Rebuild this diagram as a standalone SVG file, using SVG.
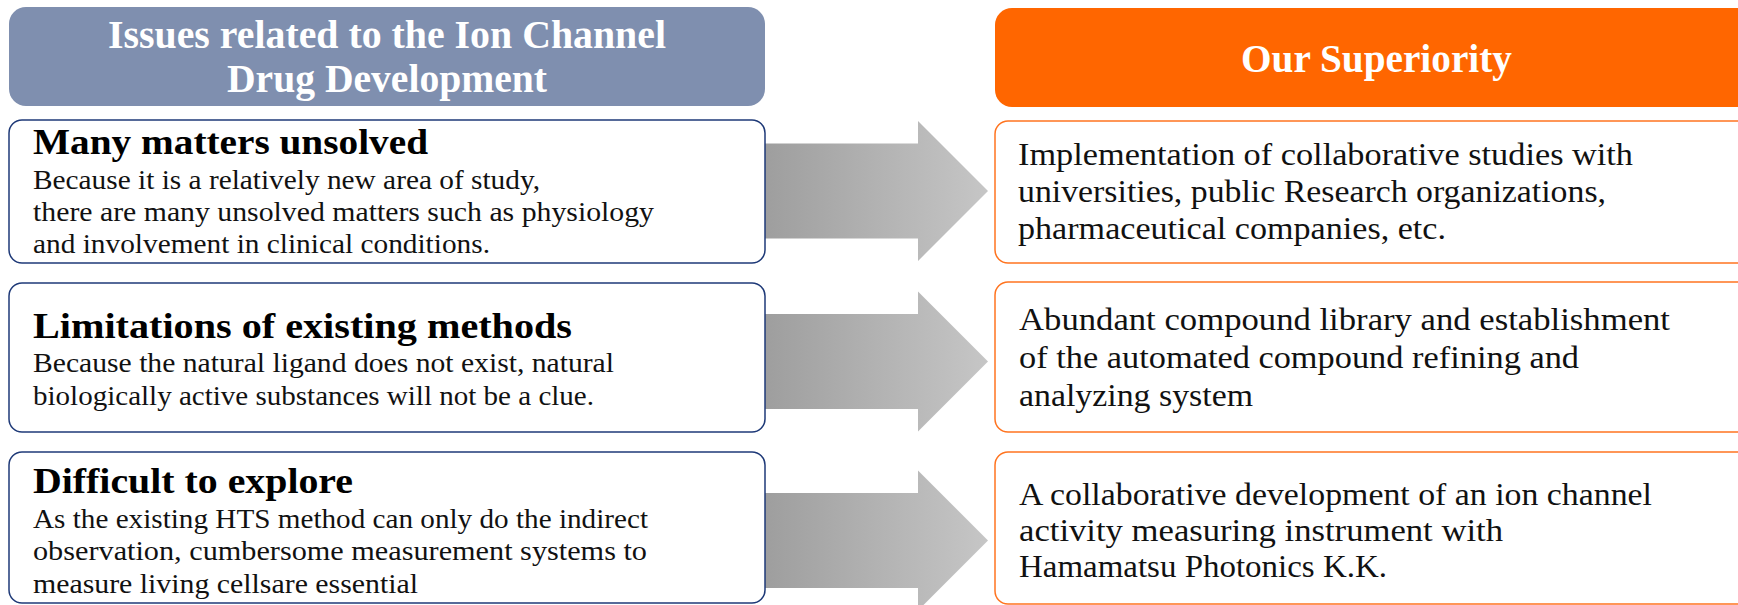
<svg xmlns="http://www.w3.org/2000/svg" width="1738" height="605" viewBox="0 0 1738 605">
<style>
  .hdr{font-family:"Liberation Serif","DejaVu Serif",serif;font-weight:bold;fill:#ffffff;}
  .ttl{font-family:"Liberation Serif","DejaVu Serif",serif;font-weight:bold;font-size:36px;fill:#000000;}
  .body{font-family:"Liberation Serif","DejaVu Serif",serif;font-size:27px;fill:#111111;}
  .rbody{font-family:"Liberation Serif","DejaVu Serif",serif;font-size:32px;fill:#111111;}
  .lbox{fill:#ffffff;stroke:#1f3a78;stroke-width:1.5;}
  .rbox{fill:#ffffff;stroke:#ff7420;stroke-width:1.5;}
  .arrow{fill:url(#ag);}
</style>
<defs>
  <linearGradient id="ag" x1="0" y1="0" x2="1" y2="0">
    <stop offset="0" stop-color="#9e9e9e"/>
    <stop offset="1" stop-color="#c6c6c6"/>
  </linearGradient>
</defs>
<rect width="1738" height="605" fill="#ffffff"/>

<g id="header-left">
  <rect x="9" y="7" width="756" height="99" rx="17" fill="#7f8faf"/>
  <text class="hdr" font-size="39" x="108" y="48" textLength="558" lengthAdjust="spacingAndGlyphs">Issues related to the Ion Channel</text>
  <text class="hdr" font-size="39" x="227" y="92" textLength="320" lengthAdjust="spacingAndGlyphs">Drug Development</text>
</g>

<g id="header-right">
  <rect x="995" y="8" width="770" height="99" rx="17" fill="#ff6600"/>
  <text class="hdr" font-size="39" x="1241" y="72" textLength="271" lengthAdjust="spacingAndGlyphs">Our Superiority</text>
</g>

<g id="connectors">
  <polygon class="arrow" points="765,143.5 918,143.5 918,121 988,191 918,261 918,238.5 765,238.5"/>
  <polygon class="arrow" points="765,314 918,314 918,291.5 988,361.5 918,431.5 918,409 765,409"/>
  <polygon class="arrow" points="765,493 918,493 918,470.5 988,540.5 918,610.5 918,588 765,588"/>
</g>

<g id="issue-1">
  <rect class="lbox" x="9" y="120" width="756" height="143" rx="13"/>
  <text class="ttl" x="33" y="154" textLength="395" lengthAdjust="spacingAndGlyphs">Many matters unsolved</text>
  <text class="body" x="33" y="189" textLength="507" lengthAdjust="spacingAndGlyphs">Because it is a relatively new area of study,</text>
  <text class="body" x="33" y="221" textLength="621" lengthAdjust="spacingAndGlyphs">there are many unsolved matters such as physiology</text>
  <text class="body" x="33" y="253" textLength="457" lengthAdjust="spacingAndGlyphs">and involvement in clinical conditions.</text>
</g>

<g id="issue-2">
  <rect class="lbox" x="9" y="283" width="756" height="149" rx="13"/>
  <text class="ttl" x="33" y="338" textLength="539" lengthAdjust="spacingAndGlyphs">Limitations of existing methods</text>
  <text class="body" x="33" y="372" textLength="581" lengthAdjust="spacingAndGlyphs">Because the natural ligand does not exist, natural</text>
  <text class="body" x="33" y="405" textLength="561" lengthAdjust="spacingAndGlyphs">biologically active substances will not be a clue.</text>
</g>

<g id="issue-3">
  <rect class="lbox" x="9" y="452" width="756" height="151" rx="13"/>
  <text class="ttl" x="33" y="493" textLength="320" lengthAdjust="spacingAndGlyphs">Difficult to explore</text>
  <text class="body" x="33" y="528" textLength="615" lengthAdjust="spacingAndGlyphs">As the existing HTS method can only do the indirect</text>
  <text class="body" x="33" y="560" textLength="614" lengthAdjust="spacingAndGlyphs">observation, cumbersome measurement systems to</text>
  <text class="body" x="33" y="593" textLength="385" lengthAdjust="spacingAndGlyphs">measure living cellsare essential</text>
</g>

<g id="superiority-1">
  <rect class="rbox" x="995" y="121" width="770" height="142" rx="13"/>
  <text class="rbody" x="1018" y="165" textLength="615" lengthAdjust="spacingAndGlyphs">Implementation of collaborative studies with</text>
  <text class="rbody" x="1018" y="202" textLength="588" lengthAdjust="spacingAndGlyphs">universities, public Research organizations,</text>
  <text class="rbody" x="1018" y="239" textLength="428" lengthAdjust="spacingAndGlyphs">pharmaceutical companies, etc.</text>
</g>

<g id="superiority-2">
  <rect class="rbox" x="995" y="282" width="770" height="150" rx="13"/>
  <text class="rbody" x="1019" y="330" textLength="651" lengthAdjust="spacingAndGlyphs">Abundant compound library and establishment</text>
  <text class="rbody" x="1019" y="368" textLength="560" lengthAdjust="spacingAndGlyphs">of the automated compound refining and</text>
  <text class="rbody" x="1019" y="406" textLength="234" lengthAdjust="spacingAndGlyphs">analyzing system</text>
</g>

<g id="superiority-3">
  <rect class="rbox" x="995" y="452" width="770" height="152" rx="13"/>
  <text class="rbody" x="1019" y="505" textLength="633" lengthAdjust="spacingAndGlyphs">A collaborative development of an ion channel</text>
  <text class="rbody" x="1019" y="541" textLength="484" lengthAdjust="spacingAndGlyphs">activity measuring instrument with</text>
  <text class="rbody" x="1019" y="577" textLength="368" lengthAdjust="spacingAndGlyphs">Hamamatsu Photonics K.K.</text>
</g>
</svg>
